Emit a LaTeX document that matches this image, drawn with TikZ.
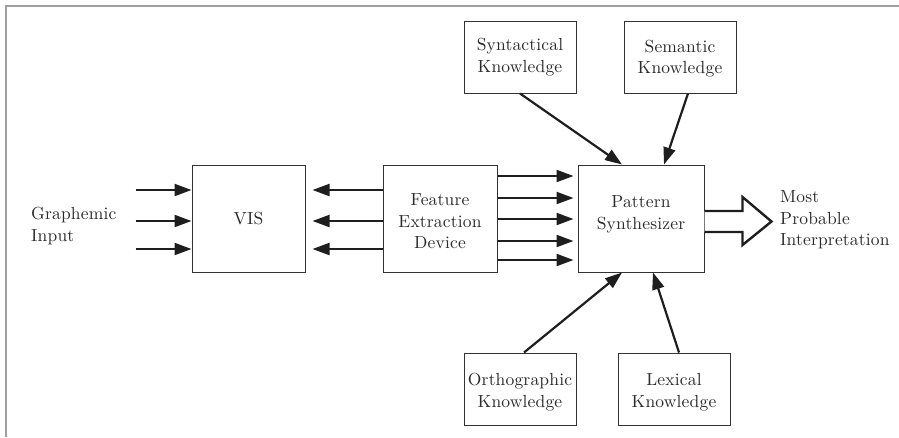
\documentclass[tikz,border=0pt]{standalone}
\usepackage{fontspec}
\newfontfamily\lmten{lmroman10-regular}[Extension=.otf,LetterSpace=1]
\usetikzlibrary{arrows.meta,calc}
\definecolor{frameg}{HTML}{A0A0A0}
\definecolor{ink}{HTML}{1E1E1E}
\definecolor{boxc}{HTML}{333333}
\definecolor{txt}{HTML}{2A2A2A}
\newcommand{\topstrut}[1]{\rule{0pt}{#1}}
\tikzset{
  txtfont/.style={font=\lmten\fontsize{17.5}{21.5}\selectfont},
  box/.style={draw=boxc, line width=1pt, fill=white, text=txt, align=center,
    txtfont, inner sep=0pt},
  lbl/.style={text=txt, align=left, txtfont, inner sep=0pt},
  arr/.style={draw=ink, line width=2.2pt, -{Triangle[length=17pt,width=12pt]}},
  hollow/.style={draw=ink, line width=2.4pt, line join=miter, fill=white},
  frameline/.style={draw=frameg, line width=2pt}
}
\begin{document}
\begin{tikzpicture}[x=1pt,y=-1pt]
\useasboundingbox (0,0) rectangle (899,437);
% frame
\draw[frameline] (6,437) -- (6,6) -- (899,6);
% boxes
\node[box, minimum width=113pt, minimum height=107pt] (vis) at (248.5,218.5) {VIS};
\node[box, minimum width=114pt, minimum height=107pt] (fed) at (440,218.5) {\topstrut{18pt}Feature\\Extraction\\Device};
\node[box, minimum width=126pt, minimum height=107pt] (ps) at (641,218.5) {Pattern\\Synthesizer\\[-9.5pt]};
\node[box, minimum width=112pt, minimum height=72pt] (syn) at (520,57) {Syntactical\\Knowledge};
\node[box, minimum width=112pt, minimum height=72pt] (sem) at (680,57) {\topstrut{15.5pt}Semantic\\Knowledge};
\node[box, minimum width=112pt, minimum height=72pt] (orth) at (520,389) {\topstrut{19pt}Orthographic\\Knowledge};
\node[box, minimum width=112pt, minimum height=72pt] (lex) at (674,389) {\topstrut{19pt}Lexical\\Knowledge};
% labels
\node[lbl, anchor=west] (gi) at (31,226) {Graphemic\\Input};
\node[lbl, anchor=west] (mpi) at (780,220) {Most\\Probable\\Interpretation};
% graphemic input arrows
\foreach \dy in {-28.5,2.5,30.5}{
  \draw[arr] ($(vis.west)+(-56,\dy)$) -- ($(vis.west)+(0,\dy)$);
}
% FED -> VIS
\foreach \dy in {-28.5,2.5,30.5}{
  \draw[arr] ($(fed.west)+(0,\dy)$) -- ($(vis.east)+(7,\dy)$);
}
% FED -> PS
\foreach \dy in {-42.5,-20.5,0.5,22.5,41.5}{
  \draw[arr] ($(fed.east)+(0,\dy)$) -- ($(ps.west)+(-4,\dy)$);
}
% knowledge arrows
\draw[arr] (syn.south) -- ($(ps.north)+(-19,0)$);
\draw[arr] ($(sem.south)+(8,0)$) -- ($(ps.north)+(23,0)$);
\draw[arr] ($(orth.north)+(4,0)$) -- ($(ps.south)+(-19,0)$);
\draw[arr] ($(lex.north)+(5,0)$) -- ($(ps.south)+(12,0)$);
% big hollow arrow
\draw[hollow] ($(ps.east)+(0,-7.5)$) -- ($(ps.east)+(38,-7.5)$) -- ($(ps.east)+(38,-21.5)$)
  -- ($(ps.east)+(67,3)$) -- ($(ps.east)+(38,26.5)$) -- ($(ps.east)+(38,13.5)$) -- ($(ps.east)+(0,13.5)$);
\end{tikzpicture}
\end{document}
